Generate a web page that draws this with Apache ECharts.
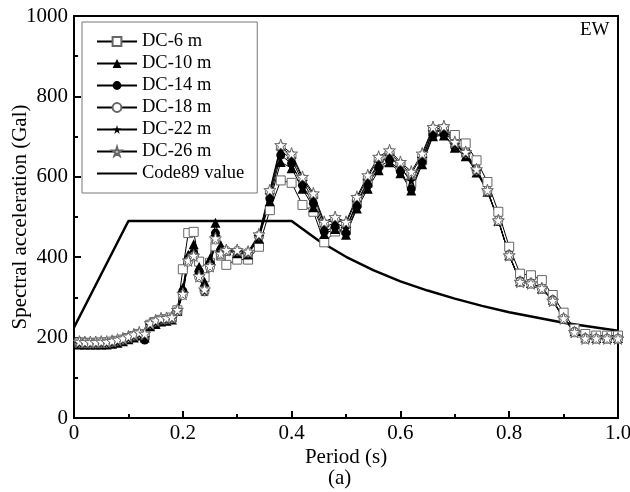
<!DOCTYPE html>
<html>
<head>
<meta charset="utf-8">
<script src="https://cdn.jsdelivr.net/npm/echarts@6/dist/echarts.min.js"></script>
<style>
html,body{margin:0;padding:0;background:#fff;}
#chart{width:630px;height:492px;}
</style>
</head>
<body>
<div id="chart"></div>
<script>
// Periods (s)
const periods = [0.01,0.02,0.03,0.04,0.05,0.06,0.07,0.08,0.09,0.10,
  0.11,0.12,0.13,0.14,0.15,0.16,0.17,0.18,0.19,0.20,
  0.21,0.22,0.23,0.24,0.25,0.26,0.27,0.28,
  0.30,0.32,0.34,0.36,0.38,0.40,0.42,0.44,0.46,0.48,0.50,
  0.52,0.54,0.56,0.58,0.60,0.62,0.64,0.66,0.68,0.70,
  0.72,0.74,0.76,0.78,0.80,0.82,0.84,0.86,0.88,0.90,
  0.92,0.94,0.96,0.98,1.00];

const dc6  = [188,187,187,187,188,188,190,192,195,199,204,209,206,232,239,244,246,250,268,370,
  460,463,389,350,386,427,404,381,
  394,394,426,517,591,585,530,513,437,464,468,534,585,631,652,626,585,641,713,718,704,
  683,641,587,513,426,359,355,343,306,262,222,209,205,205,205];
const dc10 = [183,183,183,183,183,183,185,187,191,196,200,205,200,228,234,240,242,245,266,324,
  406,432,376,339,397,486,430,417,
  410,407,446,539,637,621,570,524,458,470,456,521,570,616,636,609,566,631,701,703,672,
  651,611,563,490,405,340,336,322,294,249,216,200,199,199,199];
const dc14 = [184,184,184,184,184,184,186,188,192,197,202,206,194,229,235,241,243,246,265,316,
  396,410,365,314,384,460,419,415,
  411,409,449,546,654,633,579,534,464,476,460,526,579,623,641,613,570,637,704,705,675,
  654,613,565,492,406,341,336,323,294,248,215,199,198,198,198];
const dc18 = [187,186,186,186,187,187,189,192,195,200,205,210,205,233,240,245,246,248,266,306,
  389,402,350,316,375,444,407,416,
  416,412,454,562,674,653,595,554,483,495,483,545,599,645,661,632,608,653,719,721,683,
  659,616,565,491,404,338,334,322,291,247,213,197,197,197,197];
const dc22 = [186,185,185,185,186,186,188,190,194,199,204,209,200,231,238,243,245,248,266,312,
  393,406,358,316,380,452,413,416,
  414,411,452,555,665,644,588,545,474,486,472,537,590,635,652,623,591,646,712,714,680,
  657,615,566,492,405,340,335,323,292,248,214,198,198,198,198];
const dc26 = [190,189,189,189,190,190,192,195,198,203,208,213,210,236,243,248,249,251,269,309,
  392,404,353,320,378,447,409,418,
  418,414,457,567,679,658,600,559,488,500,488,550,604,650,666,637,613,658,724,726,687,
  662,619,567,492,405,339,335,323,292,248,214,198,198,198,198];

const codePeriods = [0,0.1,0.4,0.45,0.5,0.55,0.6,0.65,0.7,0.75,0.8,0.85,0.9,0.95,1.0];
const codeValues  = [225,490,490,441,401,368,340,317,297,279,263,250,237,227,217];

const seriesNames = ['DC-6 m','DC-10 m','DC-14 m','DC-18 m','DC-22 m','DC-26 m','Code89 value'];
const xTickLabels = {0:'0',0.2:'0.2',0.4:'0.4',0.6:'0.6',0.8:'0.8',1:'1.0'};

const FONT = 'Liberation Serif';
const STAR = 'path://M50,0 L61,35 L98,35 L68,57 L79,91 L50,70 L21,91 L32,57 L2,35 L39,35 Z';

function pairs(xs, ys){ return xs.map((x,i)=>[x, ys[i]]); }

function dcSeries(name, data, symbol, size, filled){
  return {
    name: name, type: 'line', data: pairs(periods, data),
    symbol: symbol, symbolSize: size, showSymbol: true,
    lineStyle: {color:'#000', width:1},
    itemStyle: filled ? {color:'#000', borderColor:'#000', borderWidth:0}
                      : {color:'#fff', borderColor:'#666', borderWidth:1},
    emphasis: {disabled:true},
    animation: false
  };
}

const legendData = seriesNames.map(n => n === 'Code89 value'
  ? {name:n, itemStyle:{opacity:0}}
  : {name:n});

const chart = echarts.init(document.getElementById('chart'), null, {renderer:'canvas'});
chart.setOption({
  backgroundColor: '#fff',
  animation: false,
  textStyle: {fontFamily: FONT, color:'#000'},
  grid: {left:74, right:12, top:16, bottom:74, outerBoundsMode:'none', containLabel:false,
         show:true, borderColor:'#000', borderWidth:2, backgroundColor:'transparent'},
  legend: {
    orient:'vertical', left:82, top:22,
    borderColor:'#777', borderWidth:1, padding:[10,13,10,14],
    itemWidth:40, itemHeight:11, itemGap:3,
    textStyle:{fontFamily:FONT, fontSize:18.5, color:'#000', lineHeight:19},
    data: legendData
  },
  xAxis: {
    type:'value', min:0, max:1, interval:0.2,
    name:'Period (s)', nameLocation:'middle', nameGap:29, nameMoveOverlap:false,
    nameTextStyle:{fontFamily:FONT, fontSize:21, color:'#000'},
    axisLine:{show:true, lineStyle:{color:'#000', width:2}},
    axisTick:{show:true, inside:true, length:7, lineStyle:{color:'#000', width:2}},
    minorTick:{show:true, splitNumber:2, length:4, lineStyle:{color:'#000', width:2}},
    splitLine:{show:false},
    axisLabel:{fontFamily:FONT, fontSize:21, color:'#000', margin:5,
      formatter: v => { const k = Math.round(v*10)/10; return xTickLabels[k] !== undefined ? xTickLabels[k] : ''; }}
  },
  yAxis: {
    type:'value', min:0, max:1000, interval:200,
    name:'Spectral acceleration (Gal)', nameLocation:'middle', nameGap:43, nameMoveOverlap:false,
    nameTextStyle:{fontFamily:FONT, fontSize:21, color:'#000'},
    axisLine:{show:true, lineStyle:{color:'#000', width:2}},
    axisTick:{show:true, inside:true, length:7, lineStyle:{color:'#000', width:2}},
    minorTick:{show:true, splitNumber:2, length:4, lineStyle:{color:'#000', width:2}},
    splitLine:{show:false},
    axisLabel:{fontFamily:FONT, fontSize:21, color:'#000', margin:6, formatter: v => String(v)}
  },
  graphic: [
    {type:'text', left:580, top:21, style:{text:'EW', font:'19px "Liberation Serif"', fill:'#000'}},
    {type:'text', left:328, top:468, style:{text:'(a)', font:'21px "Liberation Serif"', fill:'#000'}}
  ],
  series: [
    {
      name:'Code89 value', type:'line', data: pairs(codePeriods, codeValues),
      symbol:'none', smooth:false, z:1,
      lineStyle:{color:'#000', width:2.5}, itemStyle:{color:'#000'},
      emphasis:{disabled:true}
    },
    dcSeries('DC-6 m', dc6, 'rect', 9, false),
    dcSeries('DC-10 m', dc10, 'triangle', 10, true),
    dcSeries('DC-14 m', dc14, 'circle', 9, true),
    dcSeries('DC-18 m', dc18, 'circle', 9, false),
    dcSeries('DC-22 m', dc22, STAR, 11, true),
    dcSeries('DC-26 m', dc26, STAR, 12, false)
  ]
});
</script>
</body>
</html>
